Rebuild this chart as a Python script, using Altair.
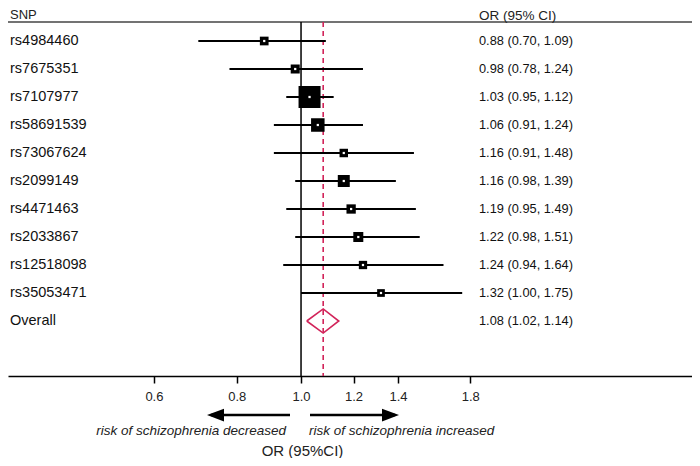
import altair as alt
import pandas as pd

# ---- data ----
snps = ["rs4984460", "rs7675351", "rs7107977", "rs58691539", "rs73067624",
        "rs2099149", "rs4471463", "rs2033867", "rs12518098", "rs35053471"]
or_est = [0.88, 0.98, 1.03, 1.06, 1.16, 1.16, 1.19, 1.22, 1.24, 1.32]
ci_lo = [0.70, 0.78, 0.95, 0.91, 0.91, 0.98, 0.95, 0.98, 0.94, 1.00]
ci_hi = [1.09, 1.24, 1.12, 1.24, 1.48, 1.39, 1.49, 1.51, 1.64, 1.75]
weights = [5.6, 6.0, 35.8, 13.5, 5.3, 10.6, 6.4, 7.4, 5.1, 4.4]
overall_label = "Overall"
overall_est = 1.08
overall_lo = 1.02
overall_hi = 1.14
tick_values = [0.6, 0.8, 1.0, 1.2, 1.4, 1.8]
header_left = "SNP"
header_right = "OR (95% CI)"
axis_title = "OR (95%CI)"
note_left = "risk of schizophrenia decreased"
note_right = "risk of schizophrenia increased"

FONT = "Liberation Sans"
RED = "#d2245a"
W, H = 684, 368
TOP = 14

n = len(snps)
df_snp = pd.DataFrame({"i": list(range(n)), "snp": snps, "est": or_est,
                       "lo": ci_lo, "hi": ci_hi, "w": weights})
labels = snps + [overall_label]
ests = or_est + [overall_est]
los = ci_lo + [overall_lo]
his = ci_hi + [overall_hi]
df_all = pd.DataFrame({
    "i": list(range(n + 1)),
    "label": labels,
    "txt": [f"{e:.2f} ({l:.2f}, {h:.2f})" for e, l, h in zip(ests, los, his)],
})
half = 0.43
df_dia = pd.DataFrame({
    "k": [0, 1, 2, 3, 4],
    "x": [overall_lo, overall_est, overall_hi, overall_est, overall_lo],
    "y": [n, n - half, n, n + half, n],
})
df_one = pd.DataFrame({"a": [0]})
df_ref = pd.DataFrame({"v": [1.0]})
df_ov = pd.DataFrame({"v": [overall_est]})

xs = alt.Scale(type="log", domain=[0.3615, 3.8867], nice=False)
ys = alt.Scale(domain=[-1.1786, 11.964], reverse=True, nice=False, zero=False)
xax = alt.Axis(values=tick_values, format=".1f", title=axis_title, grid=False,
               domainColor="black", domainWidth=1.5, tickColor="black",
               tickWidth=1.5, tickSize=7, labelPadding=7, labelFontSize=13,
               labelFont=FONT, labelColor="#222", labelFlush=False,
               labelOverlap=False, titleFontSize=15, titleFont=FONT,
               titleFontWeight="normal", titleColor="#222", titleX=294,
               titleY=74, titleBaseline="middle", titleAlign="center")

top_rule = alt.Chart(df_one).mark_rule(color="#444", strokeWidth=1.6).encode(
    x=alt.value(0), x2=alt.value(W), y=alt.value(TOP))

head_l = alt.Chart(df_one).mark_text(align="left", baseline="top",
                                     font=FONT, fontSize=13, color="#222").encode(
    x=alt.value(2), y=alt.value(1), text=alt.value(header_left))
head_r = alt.Chart(df_one).mark_text(align="left", baseline="top",
                                     font=FONT, fontSize=13.5, color="#222").encode(
    x=alt.value(471), y=alt.value(1), text=alt.value(header_right))

ref_rule = alt.Chart(df_ref).mark_rule(color="black", strokeWidth=1.5).encode(
    x=alt.X("v:Q", scale=xs, axis=xax), y=alt.value(TOP), y2=alt.value(H))

ov_rule = alt.Chart(df_ov).mark_rule(color=RED, strokeWidth=1.6,
                                     strokeDash=[5, 4]).encode(
    x=alt.X("v:Q", scale=xs, axis=xax), y=alt.value(TOP), y2=alt.value(H))

ci = alt.Chart(df_snp).mark_rule(color="black", strokeWidth=2).encode(
    x=alt.X("lo:Q", scale=xs, axis=xax), x2="hi:Q",
    y=alt.Y("i:Q", scale=ys, axis=None))

sq = alt.Chart(df_snp).mark_square(filled=True, color="black", opacity=1).encode(
    x=alt.X("est:Q", scale=xs, axis=xax),
    y=alt.Y("i:Q", scale=ys, axis=None),
    size=alt.Size("w:Q", scale=alt.Scale(domain=[0, 36], range=[0, 487]),
                  legend=None))

dots = alt.Chart(df_snp).mark_square(filled=True, color="white", opacity=1,
                                     size=5).encode(
    x=alt.X("est:Q", scale=xs, axis=xax),
    y=alt.Y("i:Q", scale=ys, axis=None))

diamond = alt.Chart(df_dia).mark_line(color=RED, strokeWidth=1.6).encode(
    x=alt.X("x:Q", scale=xs, axis=xax),
    y=alt.Y("y:Q", scale=ys, axis=None),
    order="k:Q")

lab = alt.Chart(df_all).mark_text(align="left", baseline="middle", font=FONT,
                                  fontSize=14.5, color="#111").encode(
    x=alt.value(2), y=alt.Y("i:Q", scale=ys, axis=None), text="label:N")

ortxt = alt.Chart(df_all).mark_text(align="left", baseline="middle", font=FONT,
                                    fontSize=12.8, color="#111").encode(
    x=alt.value(471), y=alt.Y("i:Q", scale=ys, axis=None), text="txt:N")

arr_y = 407
arr_l = alt.Chart(df_one).mark_rule(color="black", strokeWidth=2.5).encode(
    x=alt.value(282), x2=alt.value(203), y=alt.value(arr_y))
arr_r = alt.Chart(df_one).mark_rule(color="black", strokeWidth=2.5).encode(
    x=alt.value(302), x2=alt.value(387), y=alt.value(arr_y))
head_left = alt.Chart(df_one).mark_point(
    shape="M0,0 L2,-0.75 L2,0.75 Z", filled=True, color="black", opacity=1,
    size=289, strokeWidth=0).encode(x=alt.value(199), y=alt.value(arr_y))
head_right = alt.Chart(df_one).mark_point(
    shape="M0,0 L-2,-0.75 L-2,0.75 Z", filled=True, color="black", opacity=1,
    size=289, strokeWidth=0).encode(x=alt.value(391), y=alt.value(arr_y))
note_l = alt.Chart(df_one).mark_text(align="right", baseline="middle", font=FONT,
                                     fontSize=13.5, fontStyle="italic",
                                     color="#222").encode(
    x=alt.value(278), y=alt.value(423), text=alt.value(note_left))
note_r = alt.Chart(df_one).mark_text(align="left", baseline="middle", font=FONT,
                                     fontSize=13.5, fontStyle="italic",
                                     color="#222").encode(
    x=alt.value(301), y=alt.value(423), text=alt.value(note_right))

chart = alt.layer(
    top_rule, head_l, head_r, ref_rule, ov_rule, ci, sq, dots, diamond,
    lab, ortxt, arr_l, arr_r, head_left, head_right, note_l, note_r
).properties(
    width=W, height=H,
    autosize=alt.AutoSizeParams(type="none"),
    padding={"left": 0, "top": 0, "right": 0, "bottom": 82},
    background="white",
).configure_view(stroke=None)

chart.save("out.html", embed_options={"renderer": "svg", "actions": False})
